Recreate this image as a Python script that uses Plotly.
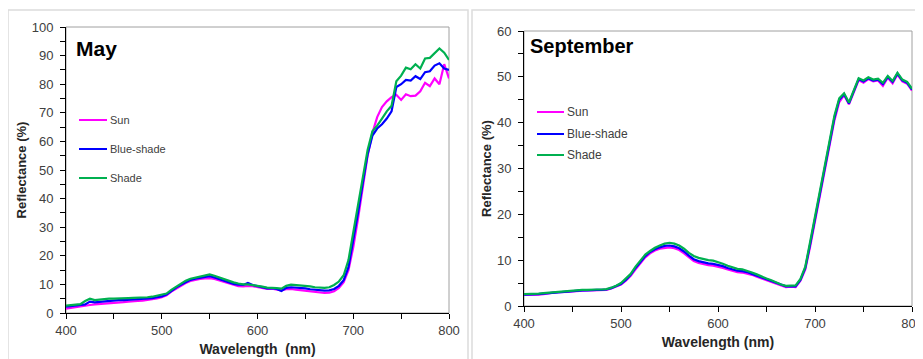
import plotly.graph_objects as go

# the page body adds an 8px margin, so the figure is drawn 8px smaller and all
# reference pixel positions are shifted by that offset
OFF = 8
W, H = 923 - OFF, 359 - OFF

wavelength = list(range(400, 805, 5))
series_names = ["Sun", "Blue-shade", "Shade"]
series_colors = ["#FF00FF", "#0000FF", "#00B050"]

may_sun = [1.5, 1.8, 2.0, 2.2, 2.5, 2.8, 3.0, 3.1, 3.3, 3.4, 3.5, 3.7, 3.8, 4.0, 4.2, 4.2, 4.3, 4.5, 4.8, 5.1,
           5.5, 6.2, 7.5, 8.5, 9.6, 10.5, 11.2, 11.6, 11.9, 12.1, 12.2, 11.9, 11.4, 10.8, 10.3, 9.8, 9.4, 9.3, 9.5, 9.4,
           9.1, 8.7, 8.4, 8.5, 8.3, 7.9, 8.3, 8.4, 8.2, 8.0, 7.8, 7.5, 7.2, 7.0, 7.0, 7.1, 7.6, 8.8, 10.8, 15.0,
           23.0, 33.0, 44.0, 55.0, 63.0, 68.5, 72.0, 74.0, 75.5, 76.3, 74.5, 76.5, 75.8, 76.0, 77.5, 80.5, 79.3, 82.0, 80.0, 87.0,
           82.0]
may_blue = [2.2, 2.4, 2.6, 2.7, 3.0, 4.0, 3.7, 3.9, 4.1, 4.2, 4.4, 4.5, 4.5, 4.6, 4.7, 4.8, 4.9, 5.0, 5.2, 5.5,
            5.8, 6.5, 7.8, 8.9, 9.9, 10.9, 11.6, 12.0, 12.3, 12.6, 12.9, 12.4, 11.8, 11.2, 10.7, 10.2, 9.9, 9.8, 10.5, 9.8,
            9.4, 8.9, 8.6, 8.7, 8.4, 7.7, 8.8, 9.0, 8.9, 8.8, 8.6, 8.3, 8.1, 7.9, 7.8, 7.9, 8.4, 9.5, 11.5, 16.0,
            25.0, 35.0, 45.5, 55.5, 62.0, 64.5, 66.0, 68.0, 70.5, 79.0, 80.0, 81.5, 81.3, 82.8, 81.8, 84.2, 84.5, 86.5, 87.3, 85.5,
            85.0]
may_shade = [2.6, 2.8, 3.0, 3.1, 4.2, 5.0, 4.5, 4.7, 4.8, 5.0, 5.0, 5.0, 5.1, 5.2, 5.3, 5.3, 5.4, 5.5, 5.7, 6.0,
             6.3, 6.8, 8.1, 9.2, 10.2, 11.3, 12.0, 12.4, 12.7, 13.0, 13.5, 13.0, 12.4, 11.8, 11.2, 10.7, 10.3, 10.0, 10.0, 9.8,
             9.6, 9.2, 8.9, 8.9, 8.7, 8.5, 9.5, 9.9, 9.8, 9.7, 9.6, 9.3, 9.0, 8.9, 8.8, 9.0, 9.8, 11.0, 13.2, 18.5,
             28.0, 38.0, 48.0, 57.0, 63.5, 65.5, 68.0, 70.5, 72.5, 81.0, 83.0, 85.8, 85.2, 87.0, 85.5, 89.0, 89.2, 91.0, 92.5, 91.0,
             88.5]

sep_sun = [2.4, 2.4, 2.5, 2.5, 2.6, 2.8, 2.9, 3.0, 3.0, 3.1, 3.2, 3.3, 3.3, 3.4, 3.4, 3.4, 3.4, 3.5, 3.8, 4.2,
           4.7, 5.5, 6.6, 8.0, 9.4, 10.6, 11.5, 12.1, 12.5, 12.7, 12.8, 12.6, 12.2, 11.5, 10.6, 9.8, 9.4, 9.1, 8.9, 8.8,
           8.6, 8.3, 8.0, 7.7, 7.4, 7.3, 7.1, 6.8, 6.4, 6.0, 5.6, 5.2, 4.9, 4.5, 4.1, 4.2, 4.1, 5.5, 8.0, 13.0,
           18.5, 24.5, 29.5, 35.5, 40.5, 44.5, 46.0, 44.0, 46.5, 49.3, 48.7, 49.5, 49.0, 49.2, 48.0, 49.8, 48.6, 50.5, 49.0, 48.5,
           47.0]
sep_blue = [2.5, 2.5, 2.5, 2.6, 2.7, 2.8, 2.9, 3.0, 3.1, 3.1, 3.2, 3.3, 3.4, 3.4, 3.5, 3.5, 3.5, 3.6, 3.9, 4.3,
            4.8, 5.7, 6.8, 8.3, 9.7, 10.9, 11.8, 12.4, 12.8, 13.1, 13.2, 13.0, 12.6, 11.9, 11.0, 10.2, 9.8, 9.5, 9.3, 9.2,
            9.0, 8.7, 8.3, 8.0, 7.7, 7.6, 7.4, 7.0, 6.6, 6.2, 5.8, 5.4, 5.0, 4.6, 4.3, 4.3, 4.3, 5.7, 8.3, 13.5,
            19.0, 25.0, 30.0, 36.0, 41.0, 45.0, 46.2, 44.2, 46.8, 49.5, 49.0, 49.7, 49.2, 49.4, 48.4, 50.0, 48.9, 50.7, 49.2, 48.7,
            47.2]
sep_shade = [2.6, 2.6, 2.6, 2.7, 2.8, 2.9, 3.0, 3.1, 3.2, 3.2, 3.3, 3.4, 3.5, 3.5, 3.6, 3.6, 3.6, 3.7, 4.0, 4.4,
             5.0, 5.9, 7.0, 8.6, 10.0, 11.2, 12.0, 12.7, 13.2, 13.6, 13.8, 13.6, 13.2, 12.5, 11.6, 10.9, 10.5, 10.2, 10.0, 9.9,
             9.6, 9.2, 8.8, 8.4, 8.1, 8.0, 7.7, 7.3, 6.9, 6.4, 6.0, 5.6, 5.1, 4.7, 4.4, 4.5, 4.5, 5.9, 8.6, 14.0,
             19.5, 25.5, 30.5, 36.5, 41.5, 45.3, 46.4, 44.4, 47.0, 49.7, 49.2, 49.9, 49.4, 49.6, 48.7, 50.2, 49.1, 50.9, 49.4, 48.9,
             47.4]

panel_titles = ["May", "September"]
x_titles = ["Wavelength  (nm)", "Wavelength (nm)"]
y_title = "Reflectance (%)"

fig = go.Figure()
for vals, name, col in zip([may_sun, may_blue, may_shade], series_names, series_colors):
    fig.add_trace(go.Scatter(x=wavelength, y=vals, name=name, mode="lines",
                             line=dict(color=col, width=2.2), xaxis="x", yaxis="y", showlegend=False))
for vals, name, col in zip([sep_sun, sep_blue, sep_shade], series_names, series_colors):
    fig.add_trace(go.Scatter(x=wavelength, y=vals, name=name, mode="lines",
                             line=dict(color=col, width=2.2), xaxis="x2", yaxis="y2", showlegend=False))

def px_x(p):
    return (p - OFF) / W

def px_y(p):
    return (H - (p - OFF)) / H

tickfont = dict(family="Liberation Sans, Arial", size=13, color="#404040")
xtitlefont = dict(family="Liberation Sans, Arial", size=14, color="#262626")
ytitlefont = dict(family="Liberation Sans, Arial", size=13, color="#262626")

def xaxis(dom, title, anchor, standoff):
    return dict(domain=dom, range=[400, 800], dtick=100, ticks="outside", ticklen=5, tickcolor="black",
                showline=True, linecolor="black", linewidth=1, showgrid=False, zeroline=False,
                automargin=False, anchor=anchor,
                tickfont=tickfont, minor=dict(dtick=50, ticks="outside", ticklen=5, tickcolor="black"),
                title=dict(text="<b>" + title + "</b>", font=xtitlefont, standoff=standoff))

def yaxis(dom, rng, anchor, title, standoff):
    return dict(domain=dom, range=rng, dtick=10, ticks="outside", ticklen=5, tickcolor="black",
                showline=True, linecolor="black", linewidth=1, showgrid=False, zeroline=False,
                automargin=False, tickfont=tickfont, anchor=anchor, ticklabelstandoff=4,
                minor=dict(dtick=5, ticks="outside", ticklen=5, tickcolor="black"),
                title=dict(text="<b>" + title + "</b>", font=ytitlefont, standoff=standoff))

fig.update_layout(
    template="none",
    width=W, height=H, margin=dict(l=0, r=0, t=0, b=0, autoexpand=False),
    paper_bgcolor="white", plot_bgcolor="white",
    xaxis=xaxis([px_x(66), px_x(449)], x_titles[0], "y", 7),
    yaxis=yaxis([px_y(313), px_y(27)], [0, 100], "x", y_title, 2),
    xaxis2=xaxis([px_x(524), px_x(912)], x_titles[1], "y2", 7),
    yaxis2=yaxis([px_y(306), px_y(31)], [0, 60], "x2", y_title, 2),
)

shapes = []
# outer screenshot frames
shapes.append(dict(type="rect", xref="paper", yref="paper", x0=px_x(8), x1=px_x(468), y0=-0.1, y1=px_y(10),
                   line=dict(color="#dcdcdc", width=1.5), layer="below"))
shapes.append(dict(type="rect", xref="paper", yref="paper", x0=px_x(472), x1=1.05, y0=-0.1, y1=px_y(10),
                   line=dict(color="#dcdcdc", width=1.5), layer="below"))
# plot area borders
for xr, yr in [("x", "y"), ("x2", "y2")]:
    shapes.append(dict(type="rect", xref=xr + " domain", yref=yr + " domain", x0=0, x1=1, y0=0, y1=1,
                       line=dict(color="#a0a0a0", width=1), layer="below"))

annotations = []
# panel titles
annotations.append(dict(text="<b>" + panel_titles[0] + "</b>", xref="paper", yref="paper", x=px_x(74), y=px_y(48),
                        xanchor="left", yanchor="middle", showarrow=False,
                        font=dict(family="Liberation Sans, Arial", size=21, color="black")))
annotations.append(dict(text="<b>" + panel_titles[1] + "</b>", xref="paper", yref="paper", x=px_x(528), y=px_y(46),
                        xanchor="left", yanchor="middle", showarrow=False,
                        font=dict(family="Liberation Sans, Arial", size=20, color="black")))

# legends
legend_specs = [(79, 107, [120, 149, 178], 11), (537, 564, [112, 134, 155], 12)]
for (lx0, lx1, ys, fs) in legend_specs:
    for name, col, yy in zip(series_names, series_colors, ys):
        shapes.append(dict(type="line", xref="paper", yref="paper", x0=px_x(lx0), x1=px_x(lx1),
                           y0=px_y(yy), y1=px_y(yy), line=dict(color=col, width=2)))
        annotations.append(dict(text=name, xref="paper", yref="paper", x=px_x(lx1 + 1), y=px_y(yy),
                                xanchor="left", yanchor="middle", showarrow=False,
                                font=dict(family="Liberation Sans, Arial", size=fs, color="#404040")))

fig.update_layout(shapes=shapes, annotations=annotations)
fig.write_html("out.html")
